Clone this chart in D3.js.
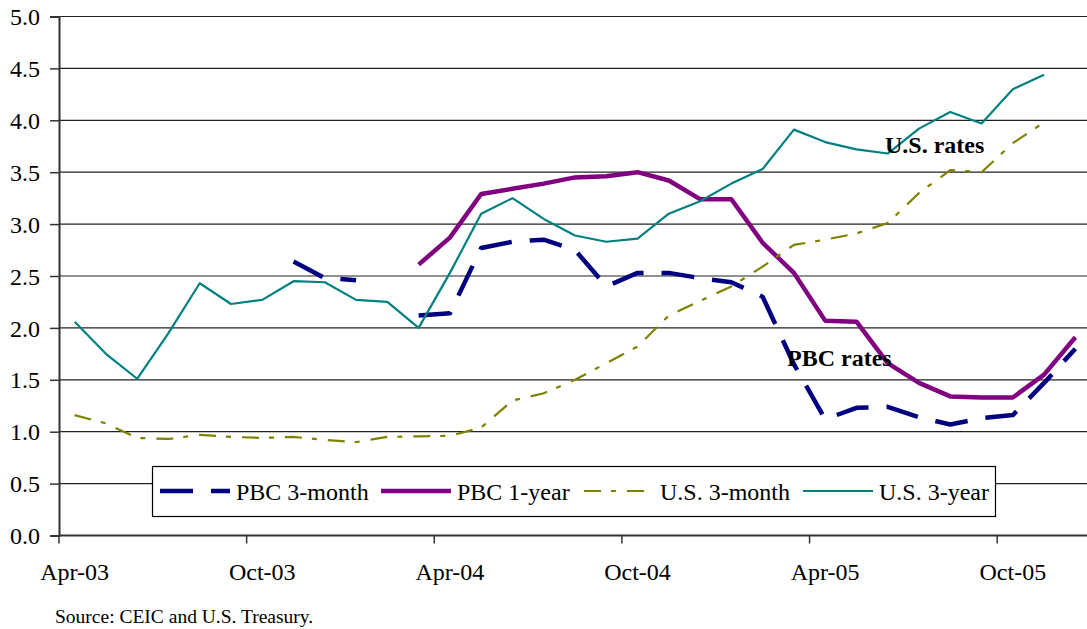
<!DOCTYPE html>
<html>
<head>
<meta charset="utf-8">
<script src="https://cdn.jsdelivr.net/npm/d3@7.9.0/dist/d3.min.js"></script>
<style>
  html, body { margin: 0; padding: 0; background: #fff; }
  svg { display: block; font-family: "Liberation Serif", "Times New Roman", serif; }
</style>
</head>
<body>
<svg id="chart" width="1087" height="629"></svg>
<script>
// months, Apr-03 .. Dec-05
const months = ['Apr-03','May-03','Jun-03','Jul-03','Aug-03','Sep-03','Oct-03','Nov-03','Dec-03',
  'Jan-04','Feb-04','Mar-04','Apr-04','May-04','Jun-04','Jul-04','Aug-04','Sep-04','Oct-04','Nov-04','Dec-04',
  'Jan-05','Feb-05','Mar-05','Apr-05','May-05','Jun-05','Jul-05','Aug-05','Sep-05','Oct-05','Nov-05','Dec-05'];
const tickLabels = ['Apr-03','Oct-03','Apr-04','Oct-04','Apr-05','Oct-05'];
const yTicks = [0, 0.5, 1, 1.5, 2, 2.5, 3, 3.5, 4, 4.5, 5];

const pbc3m = [null,null,null,null,null,null,null,2.64,2.48,2.46,null,2.12,2.14,2.77,2.83,2.85,2.75,2.40,
  2.53,2.53,2.48,2.44,2.30,1.65,1.12,1.23,1.24,1.14,1.07,1.13,1.16,1.47,1.80];
const pbc1y = [null,null,null,null,null,null,null,null,null,null,null,2.61,2.87,3.29,3.34,3.39,3.45,3.46,
  3.50,3.42,3.24,3.24,2.82,2.53,2.07,2.06,1.66,1.47,1.34,1.33,1.33,1.55,1.91];
const us3m = [1.16,1.08,0.94,0.93,0.97,0.95,0.94,0.95,0.92,0.90,0.95,0.955,0.96,1.04,1.30,1.37,1.50,1.66,
  1.82,2.12,2.26,2.40,2.59,2.80,2.85,2.91,3.01,3.30,3.52,3.50,3.78,3.98,null];
const us3y = [2.06,1.75,1.51,1.95,2.43,2.23,2.27,2.45,2.44,2.27,2.25,2.00,2.53,3.10,3.25,3.05,2.89,2.83,
  2.86,3.10,3.22,3.39,3.53,3.91,3.79,3.72,3.68,3.92,4.08,3.97,4.30,4.44,null];

const seriesNames = ['PBC 3-month','PBC 1-year','U.S. 3-month','U.S. 3-year'];
const seriesValues = [pbc3m, pbc1y, us3m, us3y];
const seriesStyle = [
  { color: '#000080', width: 4.5, dash: '33,18' },
  { color: '#800080', width: 4.5, dash: null },
  { color: '#808000', width: 2.2, dash: '17,10,5,11' },
  { color: '#008080', width: 2.2, dash: null }
];

const svg = d3.select('#chart');
const plotLeft = 59, plotRight = 1091, plotTop = 16.5, plotBottom = 535.5;

const x = d3.scaleBand().domain(months).range([plotLeft, plotRight]).padding(0);
const y = d3.scaleLinear().domain([0, 5]).range([plotBottom, plotTop]);
const cx = m => x(m) + x.bandwidth() / 2;

// gridlines
svg.append('g').selectAll('line').data(yTicks.slice(1)).join('line')
  .attr('x1', plotLeft).attr('x2', 1087)
  .attr('y1', d => y(d)).attr('y2', d => y(d))
  .attr('stroke', '#222').attr('stroke-width', 1.2);

// y axis
const yAxis = svg.append('g').attr('transform', `translate(${plotLeft},0)`)
  .call(d3.axisLeft(y).tickValues(yTicks).tickFormat(d3.format('.1f')).tickSize(9).tickPadding(10));
yAxis.select('.domain').attr('stroke', '#333').attr('stroke-width', 2);
yAxis.selectAll('.tick line').attr('stroke', '#333').attr('stroke-width', 1.5);
yAxis.selectAll('.tick text').attr('font-size', 24).attr('fill', '#000')
  .attr('font-family', '"Liberation Serif", serif').attr('dy', '0.34em');

// x axis
svg.append('line').attr('x1', plotLeft).attr('x2', 1087).attr('y1', plotBottom).attr('y2', plotBottom)
  .attr('stroke', '#333').attr('stroke-width', 2);
svg.append('g').selectAll('line').data(tickLabels).join('line')
  .attr('x1', d => x(d)).attr('x2', d => x(d))
  .attr('y1', plotBottom).attr('y2', plotBottom + 8)
  .attr('stroke', '#333').attr('stroke-width', 1.5);
svg.append('g').selectAll('text').data(tickLabels).join('text')
  .attr('x', d => cx(d)).attr('y', 580)
  .attr('text-anchor', 'middle').attr('font-size', 24).text(d => d);

// lines
const line = d3.line().defined(d => d.v !== null).x(d => cx(d.m)).y(d => y(d.v));
seriesValues.forEach((vals, i) => {
  const st = seriesStyle[i];
  svg.append('path')
    .datum(vals.map((v, j) => ({ m: months[j], v })))
    .attr('d', line)
    .attr('fill', 'none')
    .attr('stroke', st.color)
    .attr('stroke-width', st.width)
    .attr('stroke-linejoin', 'round')
    .attr('stroke-dasharray', st.dash);
});

// legend
const lg = svg.append('g');
lg.append('rect').attr('x', 152.5).attr('y', 466.5).attr('width', 843).attr('height', 50)
  .attr('fill', '#fff').attr('stroke', '#000').attr('stroke-width', 1.2);
const legendX = [160, 381, 584, 803];
seriesNames.forEach((name, i) => {
  const st = seriesStyle[i];
  lg.append('line').attr('x1', legendX[i]).attr('x2', legendX[i] + 70)
    .attr('y1', 491).attr('y2', 491)
    .attr('stroke', st.color).attr('stroke-width', st.width)
    .attr('stroke-dasharray', st.dash);
  lg.append('text').attr('x', legendX[i] + 76).attr('y', 500)
    .attr('font-size', 24).text(name);
});

// annotations
svg.append('text').attr('x', 885).attr('y', 153).attr('font-size', 24)
  .attr('font-weight', 'bold').text('U.S. rates');
svg.append('text').attr('x', 787).attr('y', 366).attr('font-size', 24)
  .attr('font-weight', 'bold').text('PBC rates');

// source
svg.append('text').attr('x', 55).attr('y', 623).attr('font-size', 19.5)
  .text('Source: CEIC and U.S. Treasury.');
</script>
</body>
</html>
